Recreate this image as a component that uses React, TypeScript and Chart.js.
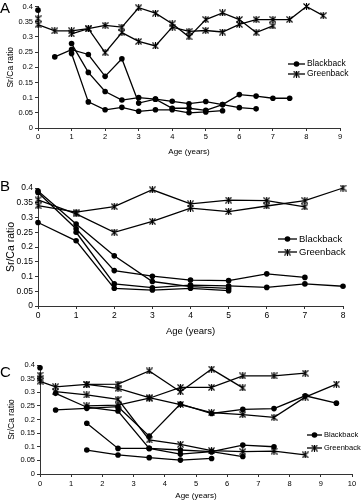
import React, { useEffect, useRef } from "react";
import { Chart, registerables } from "chart.js";

Chart.register(...registerables);

type Pt = [number, number];

// ---------- Panel A (half-year ages) ----------
const aBlackSingle: Pt[] = [[0, 0.388]];
const aBlack1: Pt[] = [[0.5, 0.234], [1, 0.258], [1.5, 0.242], [2, 0.17], [2.5, 0.228], [3, 0.082], [3.5, 0.095], [4, 0.065], [4.5, 0.065], [5, 0.058], [5.5, 0.077], [6, 0.11], [6.5, 0.105], [7, 0.098], [7.5, 0.098]];
const aBlack2: Pt[] = [[1, 0.278], [1.5, 0.183], [2, 0.12], [2.5, 0.092], [3, 0.1], [3.5, 0.095], [4, 0.088], [4.5, 0.08], [5, 0.087], [5.5, 0.077], [6, 0.067], [6.5, 0.063]];
const aBlack3: Pt[] = [[1, 0.245], [1.5, 0.086], [2, 0.06], [2.5, 0.068], [3, 0.055], [3.5, 0.06], [4, 0.06], [4.5, 0.05], [5, 0.053], [5.5, 0.057]];
const aGreenSingle: Pt[] = [[0, 0.36]];
const aGreen1: Pt[] = [[0, 0.34], [0.5, 0.32], [1, 0.32], [1.5, 0.327], [2, 0.338], [2.5, 0.332], [3, 0.396], [3.5, 0.378], [4, 0.343], [4.5, 0.3], [5, 0.357], [5.5, 0.379], [6, 0.357], [6.5, 0.314], [7, 0.336]];
const aGreen2: Pt[] = [[1, 0.31], [1.5, 0.327], [2, 0.248], [2.5, 0.314], [3, 0.285], [3.5, 0.27], [4, 0.332], [4.5, 0.318], [5, 0.321], [5.5, 0.316], [6, 0.341], [6.5, 0.357], [7, 0.357], [7.5, 0.357], [8, 0.4], [8.5, 0.37]];

// ---------- Panel B (yearly ages) ----------
const bBlack1: Pt[] = [[0, 0.39], [1, 0.278], [2, 0.17], [3, 0.083], [4, 0.066], [5, 0.06]];
const bBlack2: Pt[] = [[0, 0.385], [1, 0.262], [2, 0.12], [3, 0.101], [4, 0.088], [5, 0.086], [6, 0.109], [7, 0.097]];
const bBlack3: Pt[] = [[1, 0.25], [2, 0.075], [3, 0.062], [4, 0.071], [5, 0.068], [6, 0.063], [7, 0.075], [8, 0.067]];
const bBlack4: Pt[] = [[0, 0.283], [1, 0.221], [2, 0.06], [3, 0.054], [4, 0.06], [5, 0.052]];
const bGreen1: Pt[] = [[0, 0.34], [1, 0.318], [2, 0.337], [3, 0.394], [4, 0.346], [5, 0.359], [6, 0.357], [7, 0.336]];
const bGreen2: Pt[] = [[0, 0.36], [1, 0.312], [2, 0.25], [3, 0.287], [4, 0.332], [5, 0.32], [6, 0.339], [7, 0.357], [8, 0.4]];

// ---------- Panel C (half-year ages) ----------
const cBlackSingle: Pt[] = [[0, 0.39]];
const cBlack1: Pt[] = [[0.5, 0.235], [1.5, 0.241], [2.5, 0.247], [3.5, 0.139], [4.5, 0.257], [5.5, 0.222], [6.5, 0.237], [7.5, 0.24], [8.5, 0.287], [9.5, 0.26]];
const cBlack2: Pt[] = [[0.5, 0.296], [1.5, 0.245], [2.5, 0.231], [3.5, 0.094], [4.5, 0.073], [5.5, 0.082], [6.5, 0.064]];
const cBlack3: Pt[] = [[1.5, 0.186], [2.5, 0.094], [3.5, 0.094], [4.5, 0.088], [5.5, 0.082], [6.5, 0.106], [7.5, 0.1]];
const cBlack4: Pt[] = [[1.5, 0.088], [2.5, 0.07], [3.5, 0.06], [4.5, 0.051], [5.5, 0.057]];
const cGreenSingle: Pt[] = [[0, 0.363], [0, 0.35]];
const cGreen1: Pt[] = [[0, 0.34], [0.5, 0.32], [1.5, 0.329], [2.5, 0.33], [3.5, 0.378], [4.5, 0.302], [5.5, 0.385], [6.5, 0.316]];
const cGreen2: Pt[] = [[0.5, 0.302], [1.5, 0.29], [2.5, 0.274], [3.5, 0.125], [4.5, 0.109], [5.5, 0.086], [6.5, 0.082], [7.5, 0.084], [8.5, 0.07]];
const cGreen3: Pt[] = [[1.5, 0.329], [2.5, 0.314], [3.5, 0.28], [4.5, 0.255], [5.5, 0.225], [6.5, 0.218], [7.5, 0.208], [8.5, 0.282], [9.5, 0.33]];
const cGreen4: Pt[] = [[1.5, 0.25], [2.5, 0.253], [3.5, 0.278], [4.5, 0.318], [5.5, 0.318], [6.5, 0.36], [7.5, 0.36], [8.5, 0.37]];

const legendLabels = ["Blackback", "Greenback"];
const xTitle = "Age (years)";
const yTitle = "Sr/Ca ratio";
const yMax = 0.4;
const yStep = 0.05;

const FONT = "'Liberation Sans', Arial, Helvetica, sans-serif";

let starImg: HTMLCanvasElement | null = null;
function getStar(): HTMLCanvasElement {
  if (starImg) return starImg;
  const s = 7;
  const c = document.createElement("canvas");
  c.width = s;
  c.height = s;
  const ctx = c.getContext("2d")!;
  ctx.strokeStyle = "#000";
  ctx.lineWidth = 1.1;
  ctx.beginPath();
  ctx.moveTo(0.5, 0.5);
  ctx.lineTo(s - 0.5, s - 0.5);
  ctx.moveTo(s - 0.5, 0.5);
  ctx.lineTo(0.5, s - 0.5);
  ctx.moveTo(s / 2, 0);
  ctx.lineTo(s / 2, s);
  ctx.stroke();
  starImg = c;
  return c;
}

const fishLegend = {
  id: "fishLegend",
  afterDatasetsDraw(chart: any, _args: any, o: any) {
    if (!o || o.x1 === undefined) return;
    const ctx = chart.ctx;
    ctx.save();
    const rows = [
      { text: legendLabels[0], y: o.y1, kind: "dot" },
      { text: legendLabels[1], y: o.y2, kind: "star" },
    ];
    for (const r of rows) {
      ctx.strokeStyle = "#000";
      ctx.lineWidth = 1.3;
      ctx.beginPath();
      ctx.moveTo(o.x1, r.y);
      ctx.lineTo(o.x2, r.y);
      ctx.stroke();
      const cx = (o.x1 + o.x2) / 2;
      if (r.kind === "dot") {
        ctx.fillStyle = "#000";
        ctx.beginPath();
        ctx.arc(cx, r.y, 2.8, 0, Math.PI * 2);
        ctx.fill();
      } else {
        const st = getStar();
        ctx.drawImage(st, cx - st.width / 2, r.y - st.height / 2);
      }
      ctx.fillStyle = "#000";
      ctx.font = `${o.font}px ${FONT}`;
      ctx.textBaseline = "middle";
      ctx.textAlign = "left";
      ctx.fillText(r.text, o.tx, r.y);
    }
    ctx.restore();
  },
};

interface PanelSpec {
  letter: string;
  top: number;
  height: number;
  letterTop: number;
  xMax: number;
  black: Pt[][];
  green: Pt[][];
  padTop: number;
  padRight: number;
  yWidth: number;
  xAxisH: number;
  tickFont: number;
  xTitleFont: number;
  yTitleFont: number;
  xTickPad: number;
  xTitlePadBottom: number;
  yTitlePadTop: number;
  legend: { x1: number; x2: number; tx: number; y1: number; y2: number; font: number };
}

const panels: PanelSpec[] = [
  {
    letter: "A", top: 0, height: 162, letterTop: 0, xMax: 9,
    black: [aBlackSingle, aBlack1, aBlack2, aBlack3],
    green: [aGreenSingle, aGreen1, aGreen2],
    padTop: 6, padRight: 21, yWidth: 38, xAxisH: 34,
    tickFont: 7.5, xTitleFont: 8, yTitleFont: 8.5, xTickPad: 1, xTitlePadBottom: 5, yTitlePadTop: 6,
    legend: { x1: 288, x2: 305, tx: 307, y1: 64, y2: 74, font: 8.5 },
  },
  {
    letter: "B", top: 170, height: 170, letterTop: 178, xMax: 8,
    black: [bBlack1, bBlack2, bBlack3, bBlack4],
    green: [bGreen1, bGreen2],
    padTop: 18, padRight: 18, yWidth: 38, xAxisH: 34,
    tickFont: 8.5, xTitleFont: 9.5, yTitleFont: 10.5, xTickPad: 2, xTitlePadBottom: 3, yTitlePadTop: 5,
    legend: { x1: 278, x2: 297, tx: 299, y1: 69, y2: 82, font: 9.5 },
  },
  {
    letter: "C", top: 340, height: 162, letterTop: 364, xMax: 10,
    black: [cBlackSingle, cBlack1, cBlack2, cBlack3, cBlack4],
    green: [cGreenSingle, cGreen1, cGreen2, cGreen3, cGreen4],
    padTop: 25, padRight: 9, yWidth: 40, xAxisH: 28,
    tickFont: 7.5, xTitleFont: 8, yTitleFont: 8.5, xTickPad: 2, xTitlePadBottom: 1, yTitlePadTop: 7,
    legend: { x1: 307, x2: 322, tx: 324, y1: 95, y2: 108, font: 7.5 },
  },
];

function buildConfig(p: PanelSpec): any {
  const star = getStar();
  const mk = (pts: Pt[], label: string, isStar: boolean, single: boolean) => ({
    label,
    data: pts.map(([x, y]) => ({ x, y })),
    showLine: !single,
    borderColor: "#000",
    backgroundColor: "#000",
    borderWidth: 1.3,
    pointStyle: isStar ? star : "circle",
    pointRadius: isStar ? 3.5 : 2.8,
    pointBorderWidth: 0,
    pointBackgroundColor: "#000",
    tension: 0,
    clip: false,
  });
  const datasets = [
    ...p.black.map((s, i) => mk(s, legendLabels[0], false, s.length < 2 && i === 0)),
    ...p.green.map((s) => mk(s, legendLabels[1], true, s.every((q) => q[0] === s[0][0]))),
  ];
  const tickFont = { family: FONT, size: p.tickFont };
  return {
    type: "scatter",
    data: { datasets },
    plugins: [fishLegend],
    options: {
      animation: false,
      responsive: false,
      events: [],
      layout: { padding: { top: p.padTop, right: p.padRight, left: 0, bottom: 0 } },
      plugins: {
        legend: { display: false },
        tooltip: { enabled: false },
        fishLegend: p.legend,
      },
      scales: {
        x: {
          type: "linear",
          min: 0,
          max: p.xMax,
          ticks: { stepSize: 1, font: tickFont, color: "#000", padding: p.xTickPad, maxRotation: 0, autoSkip: false },
          grid: { drawOnChartArea: false, tickLength: 3, color: "#333", lineWidth: 1 },
          border: { display: true, color: "#333", width: 1 },
          title: { display: true, text: xTitle, color: "#000", font: { family: FONT, size: p.xTitleFont }, padding: { top: 0, bottom: p.xTitlePadBottom } },
          afterFit: (s: any) => { s.height = p.xAxisH; },
        },
        y: {
          type: "linear",
          min: 0,
          max: yMax,
          ticks: {
            stepSize: yStep,
            font: tickFont,
            color: "#000",
            padding: 2,
            callback: (v: any) => String(Number(Number(v).toFixed(2))),
          },
          grid: { drawOnChartArea: false, tickLength: 3, color: "#333", lineWidth: 1 },
          border: { display: true, color: "#333", width: 1 },
          title: { display: true, text: yTitle, color: "#000", font: { family: FONT, size: p.yTitleFont }, padding: { top: p.yTitlePadTop, bottom: 0 } },
          afterFit: (s: any) => { s.width = p.yWidth; },
        },
      },
    },
  };
}

function Panel({ spec }: { spec: PanelSpec }) {
  const ref = useRef<HTMLCanvasElement | null>(null);
  useEffect(() => {
    if (!ref.current) return;
    const chart = new Chart(ref.current, buildConfig(spec));
    return () => chart.destroy();
  }, [spec]);
  return (
    <>
      <canvas
        ref={ref}
        width={361}
        height={spec.height}
        style={{ position: "absolute", left: 0, top: spec.top, width: 361, height: spec.height, display: "block" }}
      />
      <div
        style={{
          position: "absolute",
          left: 0,
          top: spec.letterTop,
          fontFamily: FONT,
          fontSize: 15,
          lineHeight: "15px",
          color: "#000",
        }}
      >
        {spec.letter}
      </div>
    </>
  );
}

export default function App() {
  return (
    <div
      style={{
        position: "fixed",
        left: 0,
        top: 0,
        width: 361,
        height: 500,
        overflow: "hidden",
        background: "#fff",
      }}
    >
      {panels.map((p) => (
        <Panel key={p.letter} spec={p} />
      ))}
    </div>
  );
}
